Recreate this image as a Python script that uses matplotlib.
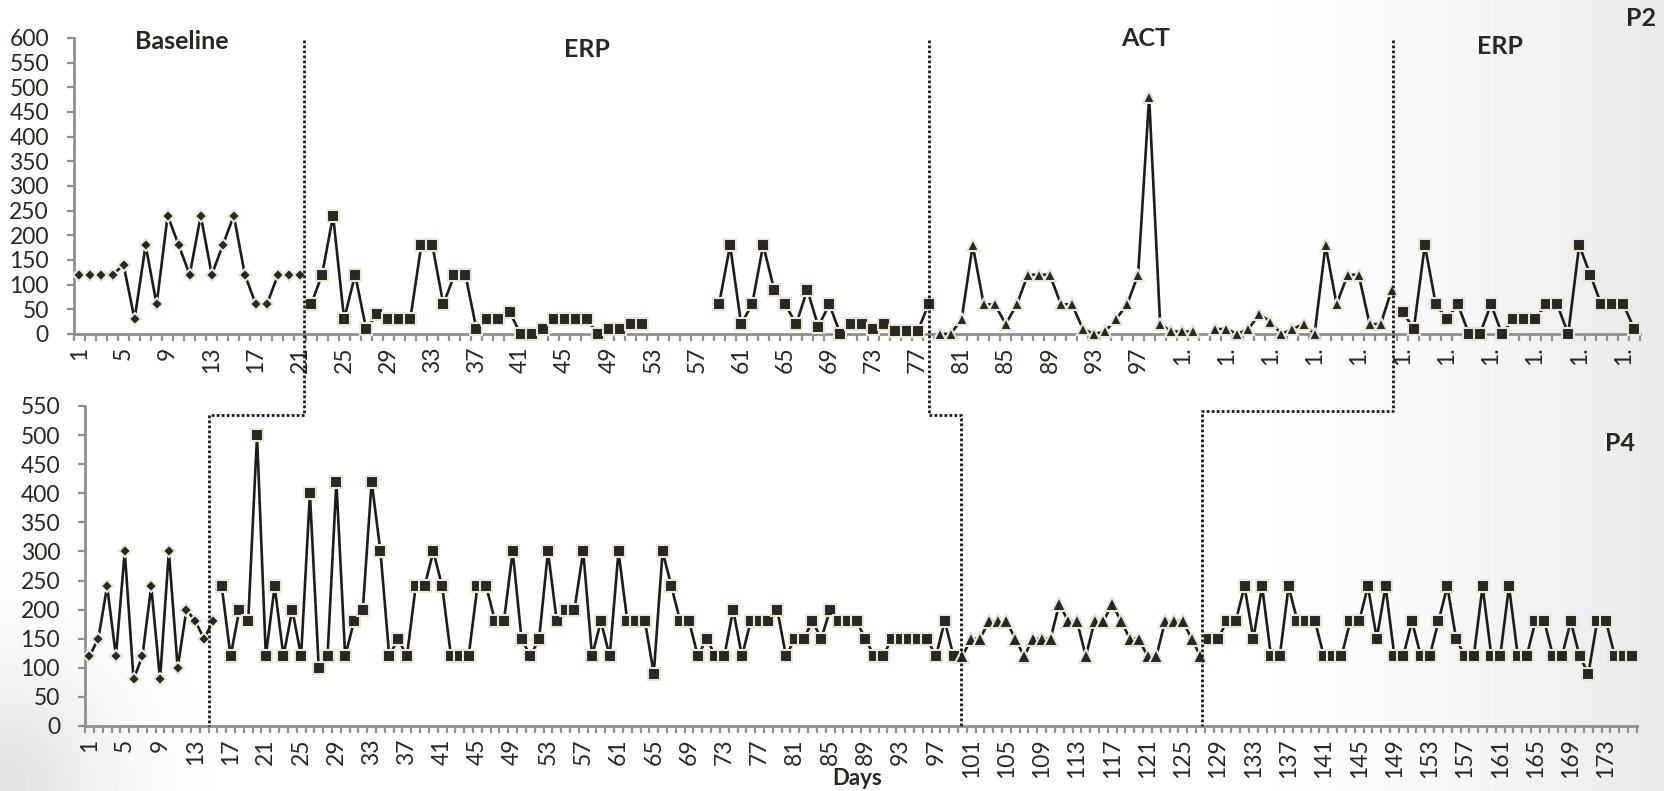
import numpy as np
import matplotlib.pyplot as plt
from matplotlib.lines import Line2D

nan = np.nan

# ---- P2 (top panel), values per day ----
p2_baseline = [120, 120, 120, 120, 140, 30, 180, 60, 240, 180, 120, 240, 120, 180,
               240, 120, 60, 60, 120, 120, 120]                                   # days 1-21
p2_erp1 = [60, 120, 240, 30, 120, 10, 40, 30, 30, 30, 180, 180, 60, 120, 120, 10,
           30, 30, 45, 0, 0, 10, 30, 30, 30, 30, 0, 10, 10, 20, 20,
           nan, nan, nan, nan, nan, nan,
           60, 180, 20, 60, 180, 90, 60, 20, 90, 15, 60, 0, 20, 20, 10, 20, 5, 5, 5, 60]  # days 22-78
p2_act = [0, 0, 30, 180, 60, 60, 20, 60, 120, 120, 120, 60, 60, 10, 0, 5, 30, 60,
          120, 480, 20, 5, 5, 5, nan, 10, 10, 0, 10, 40, 25, 0, 10, 20, 0, 180, 60,
          120, 120, 20, 20, 90]                                                   # days 79-120
p2_erp2 = [45, 10, 180, 60, 30, 60, 0, 0, 60, 0, 30, 30, 30, 60, 60, 0, 180, 120,
           60, 60, 60, 10]                                                        # days 121-142

# ---- P4 (bottom panel), values per day ----
p4_baseline = [120, 150, 240, 120, 300, 80, 120, 240, 80, 300, 100, 200, 180, 150, 180]  # days 1-15
p4_erp1 = [240, 120, 200, 180, 500, 120, 240, 120, 200, 120, 400, 100, 120, 420, 120,
           180, 200, 420, 300, 120, 150, 120, 240, 240, 300, 240, 120, 120, 120, 240,
           240, 180, 180, 300, 150, 120, 150, 300, 180, 200, 200, 300, 120, 180, 120,
           300, 180, 180, 180, 90, 300, 240, 180, 180, 120, 150, 120, 120, 200, 120,
           180, 180, 180, 200, 120, 150, 150, 180, 150, 200, 180, 180, 180, 150, 120,
           120, 150, 150, 150, 150, 150, 120, 180, 120]                            # days 16-99
p4_act = [120, 150, 150, 180, 180, 180, 150, 120, 150, 150, 150, 210, 180, 180, 120,
          180, 180, 210, 180, 150, 150, 120, 120, 180, 180, 180, 150, 120]        # days 100-127
p4_erp2 = [150, 150, 180, 180, 240, 150, 240, 120, 120, 240, 180, 180, 180, 120, 120,
           120, 180, 180, 240, 150, 240, 120, 120, 180, 120, 120, 180, 240, 150, 120,
           120, 240, 120, 120, 240, 120, 120, 180, 180, 120, 120, 180, 120, 90, 180,
           180, 120, 120, 120]                                                    # days 128-176

# phase change positions (day units)
p2_changes = [21.35, 78.0, 120.1]
p4_changes = [14.6, 99.86, 127.2]

phase_names = ["Baseline", "ERP", "ACT", "ERP"]

INK = "#2a2620"
EDGE = "#ebe7d6"
AXIS_GREY = "#8f8f8f"

plt.rcParams["font.family"] = ["Lato", "DejaVu Sans"]


def plot_phases(ax, phases, marker_sizes):
    start = 1
    for values, (marker, ms) in zip(phases, marker_sizes):
        days = np.arange(start, start + len(values))
        ax.plot(days, values, color="#1f1b18", lw=1.9, marker=marker, ms=ms,
                mfc=INK, mec=EDGE, mew=1.5, zorder=3, clip_on=False)
        start += len(values)
    return start - 1


def style_axis(ax, n_days, ymax, label_fn):
    ax.set_facecolor("none")
    ax.set_xlim(0.5, n_days + 0.5)
    ax.set_ylim(0, ymax)
    ax.set_yticks(np.arange(0, ymax + 1, 50))
    label_days = np.arange(1, n_days + 1, 4)
    ax.set_xticks(label_days)
    ax.set_xticklabels([label_fn(d) for d in label_days], rotation=90)
    ax.set_xticks(np.arange(0.5, n_days + 1, 1), minor=True)
    for side in ("top", "right"):
        ax.spines[side].set_visible(False)
    for side in ("left", "bottom"):
        ax.spines[side].set_color(AXIS_GREY)
        ax.spines[side].set_linewidth(2)
    ax.tick_params(axis="x", which="major", length=0, pad=9, labelsize=16.5, labelcolor=INK)
    ax.tick_params(axis="x", which="minor", length=5, width=1.6, color=AXIS_GREY)
    ax.tick_params(axis="y", length=5, width=1.6, color=AXIS_GREY, pad=13,
                   labelsize=16.5, labelcolor=INK)


fig = plt.figure(figsize=(16.65, 7.91), dpi=100)

# soft slide background: grey towards the right edge and the lower-left corner
bg = fig.add_axes([0, 0, 1, 1], zorder=-10)
gx, gy = np.meshgrid(np.linspace(0, 1, 400), np.linspace(0, 1, 200))
shade = 0.085 * np.clip((gx - 0.74) / 0.26, 0, 1) ** 1.4
shade += 0.11 * np.exp(-((gx / 0.07) ** 2 + ((1 - gy) / 0.16) ** 2))
bg.imshow(1 - shade, cmap="gray", vmin=0, vmax=1, aspect="auto", extent=(0, 1, 0, 1))
bg.set_axis_off()

ax_top = fig.add_axes([0.0444, 0.5778, 0.9405, 0.3742])
ax_bot = fig.add_axes([0.0511, 0.0822, 0.932, 0.4046])

n_top = plot_phases(ax_top, [p2_baseline, p2_erp1, p2_act, p2_erp2],
                    [("D", 6), ("s", 8.5), ("^", 8), ("s", 8.5)])
n_bot = plot_phases(ax_bot, [p4_baseline, p4_erp1, p4_act, p4_erp2],
                    [("D", 6), ("s", 8.5), ("^", 10), ("s", 8.5)])

style_axis(ax_top, n_top, 600, lambda d: str(d) if d < 100 else "1.")
style_axis(ax_bot, n_bot, 550, lambda d: str(d))

# phase titles on the top panel
title_pos = [(10.3, 592), (47, 576), (97.7, 598), (129.8, 582)]
for name, (x, y) in zip(phase_names, title_pos):
    ax_top.text(x, y, name, ha="center", va="center", fontsize=18,
                fontweight="bold", color=INK)

fig.text(0.9855, 0.976, "P2", ha="center", va="center", fontsize=18,
         fontweight="bold", color=INK)
fig.text(0.973, 0.439, "P4", ha="center", va="center", fontsize=18,
         fontweight="bold", color=INK)
fig.text(0.515, 0.016, "Days", ha="center", va="center", fontsize=16,
         fontweight="bold", color=INK)

# dotted phase-change lines stepping from the P2 panel down into the P4 panel
connector_y = [1 - 415 / 791, 1 - 415 / 791, 1 - 411 / 791]
to_fig = fig.transFigure.inverted()
for top_x, bot_x, cy in zip(p2_changes, p4_changes, connector_y):
    x0, y0 = to_fig.transform(ax_top.transData.transform((top_x, 595)))
    x1, y1 = to_fig.transform(ax_bot.transData.transform((bot_x, 0)))
    fig.add_artist(Line2D([x0, x0, x1, x1], [y0, cy, cy, y1],
                          transform=fig.transFigure, color="#1c1a18",
                          lw=2.0, ls=(0, (1, 0.8)), zorder=5))

fig.savefig("out.png", dpi=100)
